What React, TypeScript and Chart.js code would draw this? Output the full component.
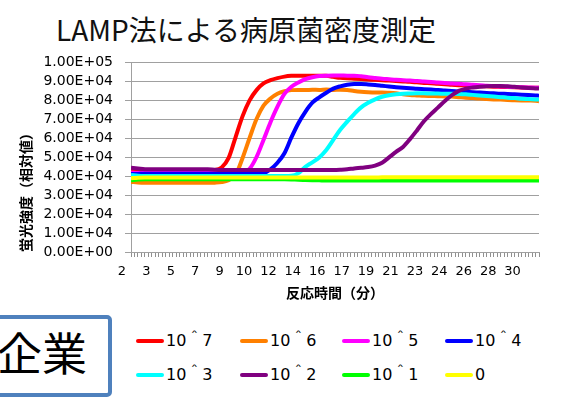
import React, { useEffect, useRef } from 'react';
import { Chart, registerables } from 'chart.js';

Chart.register(...registerables);

// ---- data ----
const times = [
  2, 2.5, 3, 3.5, 4, 4.5, 5, 5.5, 6, 6.5,
  7, 7.5, 8, 8.5, 9, 9.5, 10, 10.5, 11, 11.5,
  12, 12.5, 13, 13.5, 14, 14.5, 15, 15.5, 16, 16.5,
  17, 17.5, 18, 18.5, 19, 19.5, 20, 20.5, 21, 21.5,
  22, 22.5, 23, 23.5, 24, 24.5, 25, 25.5, 26, 26.5,
  27, 27.5, 28, 28.5, 29, 29.5, 30, 30.5, 31, 31.25,
];

const s10e7 = [
  42900, 42800, 42700, 42800, 42800, 42700, 42800, 42900, 42800, 42800,
  42800, 42900, 43100, 44500, 49500, 60500, 71500, 79800, 85200, 88700,
  90400, 91500, 92300, 92700, 92800, 92800, 92800, 92700, 92700, 92200,
  91700, 91400, 91200, 91000, 90800, 90600, 90400, 90200, 90000, 89800,
  89600, 89300, 89000, 88800, 88500, 88300, 88000, 87800, 87700, 87500,
  87300, 87200, 87000, 86900, 86800, 86700, 86600, 86500, 86400, 86400,
];
const s10e6 = [
  36900, 36600, 36500, 36500, 36400, 36500, 36500, 36400, 36500, 36500,
  36500, 36400, 36500, 36800, 37800, 40500, 49500, 60000, 70000, 77000,
  80800, 83300, 84600, 85200, 85300, 85200, 85400, 85300, 85500, 85300,
  85400, 85300, 84700, 84300, 84100, 84000, 84000, 83800, 83500, 83000,
  82600, 82400, 82200, 82100, 82000, 81900, 81800, 81500, 81200, 81000,
  80800, 80500, 80300, 80200, 80000, 79900, 79800, 79700, 79600, 79400,
];
const s10e5 = [
  41800, 41600, 41600, 41600, 41600, 41600, 41600, 41600, 41600, 41600,
  41600, 41600, 41600, 41600, 41600, 41700, 41900, 43800, 50000, 59000,
  68300, 76500, 83200, 87000, 89200, 91000, 92000, 92600, 92800, 92900,
  92900, 92800, 92800, 92500, 92000, 91600, 91200, 90900, 90600, 90400,
  90200, 90000, 89700, 89500, 89200, 89000, 88700, 88500, 88300, 88000,
  87800, 87500, 87300, 87100, 87000, 86800, 86700, 86600, 86500, 86500,
];
const s10e4 = [
  41000, 41100, 41200, 41200, 41200, 41200, 41200, 41200, 41200, 41200,
  41200, 41200, 41200, 41200, 41200, 41200, 41300, 41300, 41400, 41500,
  43500, 47000, 52000, 60300, 67800, 73800, 78600, 81400, 83800, 86000,
  87200, 88000, 88400, 88400, 88200, 87900, 87500, 87100, 86700, 86400,
  86200, 85900, 85700, 85500, 85300, 85000, 84800, 84500, 84300, 84100,
  83900, 83700, 83500, 83300, 83200, 83000, 82800, 82600, 82400, 82300,
];
const s10e3 = [
  40500, 40100, 40000, 40000, 40000, 40000, 40000, 40000, 40000, 40000,
  40000, 40000, 40000, 40000, 40000, 40000, 40000, 40000, 40000, 40000,
  40000, 40000, 40000, 40100, 41500, 44800, 47200, 49800, 53700, 59000,
  64300, 68600, 72600, 76100, 78500, 80300, 81700, 82500, 83000, 83300,
  83400, 83500, 83500, 83400, 83400, 83300, 83300, 83200, 83000, 82700,
  82400, 82100, 81800, 81500, 81200, 81000, 80700, 80500, 80300, 80200,
];
const s10e2 = [
  44400, 44000, 43600, 43500, 43500, 43500, 43500, 43500, 43500, 43500,
  43500, 43500, 43300, 43200, 43200, 43200, 43200, 43200, 43200, 43200,
  43200, 43200, 43200, 43200, 43200, 43200, 43200, 43200, 43200, 43200,
  43300, 43500, 44000, 44300, 44700, 45500, 47000, 49800, 52700, 55300,
  59400, 64000, 68800, 72600, 76000, 79500, 82500, 84800, 86000, 86600,
  87000, 87300, 87400, 87400, 87200, 87000, 86600, 86300, 86100, 86000,
];
const s10e1 = [
  37800, 38200, 38300, 38300, 38300, 38300, 38300, 38300, 38300, 38300,
  38300, 38300, 38300, 38300, 38300, 38300, 38300, 38300, 38300, 38300,
  38300, 38300, 38300, 38200, 38000, 37900, 37800, 37700, 37600, 37600,
  37600, 37600, 37600, 37600, 37600, 37600, 37600, 37600, 37600, 37600,
  37600, 37600, 37600, 37600, 37600, 37600, 37600, 37600, 37600, 37600,
  37600, 37600, 37600, 37600, 37600, 37600, 37600, 37600, 37600, 37600,
];
const s0 = [
  38800, 39100, 39200, 39200, 39200, 39200, 39200, 39200, 39200, 39200,
  39200, 39200, 39200, 39200, 39200, 39200, 39200, 39200, 39200, 39200,
  39200, 39200, 39200, 39200, 39200, 39200, 39200, 39200, 39200, 39200,
  39200, 39200, 39200, 39200, 39200, 39200, 39300, 39300, 39400, 39400,
  39400, 39400, 39400, 39400, 39400, 39400, 39400, 39400, 39400, 39400,
  39400, 39400, 39400, 39400, 39400, 39400, 39400, 39400, 39400, 39400,
];

const seriesNames = ['10＾7', '10＾6', '10＾5', '10＾4', '10＾3', '10＾2', '10＾1', '0'];
const seriesValues = [s10e7, s10e6, s10e5, s10e4, s10e3, s10e2, s10e1, s0];
const seriesColors = ['#FF0000', '#FF8000', '#FF00FF', '#0000FF', '#00FFFF', '#800080', '#00FF00', '#FFFF00'];

const xLabelTimes = [2, 3.75, 5.5, 7.25, 9, 10.75, 12.5, 14.25, 16, 17.75, 19.5, 21.25, 23, 24.75, 26.5, 28.25, 30];
const xLabelTexts = ['2', '3', '5', '7', '9', '10', '12', '14', '16', '17', '19', '21', '23', '24', '26', '28', '30'];

const titleText = 'LAMP法による病原菌密度測定';
const xTitle = '反応時間（分）';
const yTitle = '蛍光強度（相対値）';
const boxText = '企業';

// ---- layout ----
const legendCols = [136, 240, 342, 445];
const legendRows = [341, 374.5];

function sci(v: number): string {
  if (v === 0) return '0.00E+00';
  const e = Math.floor(Math.log10(v) + 1e-9);
  const m = v / Math.pow(10, e);
  return m.toFixed(2) + 'E+' + String(e).padStart(2, '0');
}

export default function App() {
  const ref = useRef<HTMLCanvasElement | null>(null);

  useEffect(() => {
    if (!ref.current) return;
    const n = seriesNames.length;
    const chart = new Chart(ref.current, {
      type: 'line',
      data: {
        datasets: seriesNames.map((name, i) => ({
          label: name,
          data: times.map((t, k) => ({ x: t, y: seriesValues[i][k] })),
          borderColor: seriesColors[i],
          backgroundColor: seriesColors[i],
          borderWidth: 4,
          pointRadius: 0,
          cubicInterpolationMode: 'monotone' as const,
          fill: false,
          order: n - i,
        })),
      },
      options: {
        responsive: false,
        animation: false,
        layout: { padding: { left: 12, right: 23, top: 62, bottom: 0 } },
        plugins: {
          legend: { display: false },
          title: { display: false },
          tooltip: { enabled: false },
        },
        scales: {
          x: {
            type: 'linear',
            min: 2,
            max: 31.25,
            ticks: {
              stepSize: 0.25,
              autoSkip: false,
              maxRotation: 0,
              minRotation: 0,
              labelOffset: -9,
              padding: 7,
              color: '#000',
              font: { family: 'DejaVu Sans', size: 13 },
              callback: (value: any) => {
                const idx = xLabelTimes.findIndex((t) => Math.abs(t - Number(value)) < 1e-6);
                return idx >= 0 ? xLabelTexts[idx] : '';
              },
            },
            grid: { drawOnChartArea: false, drawTicks: true, tickLength: 5, color: '#909090', lineWidth: 1 },
            border: { color: '#A0A0A0', width: 1 },
            title: {
              display: true,
              text: xTitle,
              color: '#000',
              font: { family: 'Noto Sans CJK JP', size: 14, weight: 'bold' },
              padding: { top: 0, bottom: 4 },
            },
            afterFit: (s: any) => { s.height = 53; },
          },
          y: {
            min: 0,
            max: 100000,
            ticks: {
              stepSize: 10000,
              autoSkip: false,
              padding: 12,
              color: '#000',
              font: { family: 'DejaVu Sans', size: 14 },
              callback: (value: any) => sci(Number(value)),
            },
            grid: { color: '#A0A0A0', lineWidth: 1, tickLength: 6 },
            border: { color: '#A0A0A0', width: 1 },
            title: {
              display: true,
              text: yTitle,
              align: 'start',
              color: '#000',
              font: { family: 'Noto Sans CJK JP', size: 14, weight: 'bold' },
              padding: { top: 5, bottom: 0 },
            },
            afterFit: (s: any) => { s.width = 119; },
          },
        },
      },
    });
    return () => chart.destroy();
  }, []);

  return (
    <div style={{ position: 'absolute', left: 0, top: 0, width: 562, height: 398, overflow: 'hidden', background: '#fff' }}>
      <div
        style={{
          position: 'absolute', left: 56, top: 12, fontFamily: '"Noto Sans CJK JP", sans-serif',
          fontSize: 28, lineHeight: '34px', color: '#111', whiteSpace: 'nowrap',
        }}
      >
        {titleText}
      </div>
      <canvas ref={ref} width={562} height={305} style={{ position: 'absolute', left: 0, top: 0, width: 562, height: 305 }} />
      <div
        style={{
          position: 'absolute', left: -20, top: 315, width: 132, height: 82, boxSizing: 'border-box',
          border: '4.5px solid #4F81BD', borderRadius: 5,
        }}
      />
      <div
        style={{
          position: 'absolute', left: -3, top: 327, fontFamily: '"Noto Sans CJK JP", sans-serif',
          fontSize: 45, lineHeight: '50px', color: '#000', whiteSpace: 'nowrap',
        }}
      >
        {boxText}
      </div>
      {seriesNames.map((name, i) => {
        const x = legendCols[i % 4];
        const y = legendRows[Math.floor(i / 4)];
        return (
          <React.Fragment key={name}>
            <div style={{ position: 'absolute', left: x, top: y - 2, width: 28, height: 4, borderRadius: 2, background: seriesColors[i] }} />
            <div
              style={{
                position: 'absolute', left: x + 30, top: y - 10, fontFamily: '"DejaVu Sans", "Noto Sans CJK JP", sans-serif',
                fontSize: 16, lineHeight: '20px', color: '#000', whiteSpace: 'nowrap',
              }}
            >
              {name}
            </div>
          </React.Fragment>
        );
      })}
    </div>
  );
}
